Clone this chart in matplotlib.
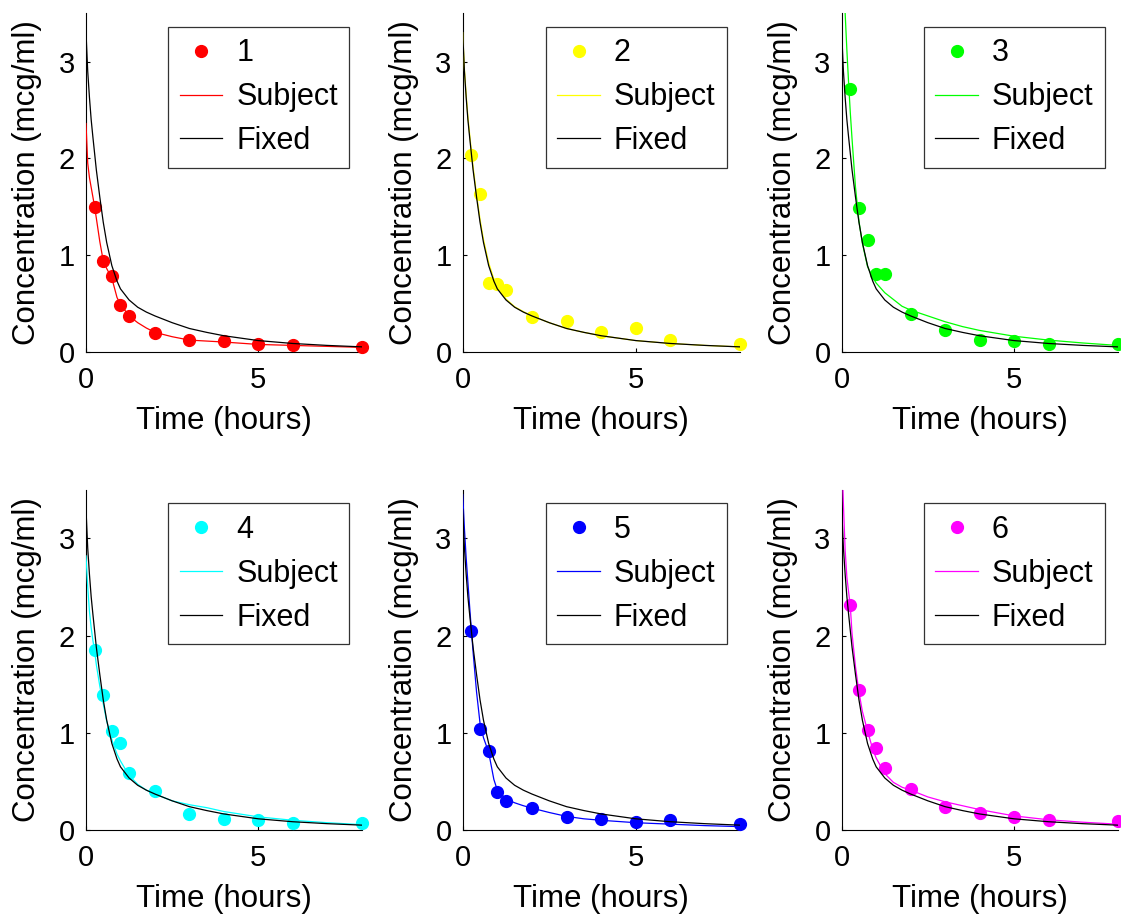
import matplotlib
matplotlib.use("Agg")
import matplotlib.pyplot as plt

plt.rcParams['font.family'] = ['Liberation Sans', 'DejaVu Sans']

# sampling times of the indomethacin data (hours)
time = [0.25, 0.5, 0.75, 1, 1.25, 2, 3, 4, 5, 6, 8]

# measured concentrations, one list per subject
conc_1 = [1.50, 0.94, 0.78, 0.48, 0.37, 0.19, 0.12, 0.11, 0.08, 0.07, 0.05]
conc_2 = [2.03, 1.63, 0.71, 0.70, 0.64, 0.36, 0.32, 0.20, 0.25, 0.12, 0.08]
conc_3 = [2.72, 1.49, 1.16, 0.80, 0.80, 0.39, 0.22, 0.12, 0.11, 0.08, 0.08]
conc_4 = [1.85, 1.39, 1.02, 0.89, 0.59, 0.40, 0.16, 0.11, 0.10, 0.07, 0.07]
conc_5 = [2.05, 1.04, 0.81, 0.39, 0.30, 0.23, 0.13, 0.11, 0.08, 0.10, 0.06]
conc_6 = [2.31, 1.44, 1.03, 0.84, 0.64, 0.42, 0.24, 0.17, 0.13, 0.10, 0.09]

# fitted curves
curve_t = [0, 0.05, 0.1, 0.15, 0.2, 0.25, 0.3, 0.4, 0.5, 0.6, 0.75, 0.9, 1.0,
           1.25, 1.5, 1.75, 2.0, 2.5, 3.0, 3.5, 4.0, 5.0, 6.0, 7.0, 8.0]
fixed_fit = [3.30, 2.90, 2.63, 2.40, 2.22, 2.05, 1.88, 1.60, 1.34, 1.13, 0.89, 0.73, 0.65,
             0.535, 0.46, 0.41, 0.37, 0.30, 0.24, 0.20, 0.165, 0.115, 0.085, 0.065, 0.05]
subj_fit_1 = [2.36, 1.95, 1.80, 1.70, 1.60, 1.50, 1.38, 1.14, 0.94, 0.86, 0.76, 0.56, 0.49,
              0.37, 0.30, 0.245, 0.20, 0.155, 0.12, 0.11, 0.10, 0.075, 0.065, 0.055, 0.045]
subj_fit_2 = [3.30, 2.92, 2.66, 2.43, 2.25, 2.08, 1.91, 1.63, 1.37, 1.16, 0.92, 0.75, 0.67,
              0.545, 0.465, 0.415, 0.37, 0.30, 0.24, 0.20, 0.165, 0.115, 0.085, 0.065, 0.05]
subj_fit_3 = [4.20, 3.85, 3.50, 3.12, 2.78, 2.47, 2.20, 1.70, 1.35, 1.12, 0.88, 0.77, 0.71,
              0.61, 0.54, 0.47, 0.43, 0.37, 0.31, 0.26, 0.22, 0.16, 0.12, 0.09, 0.065]
subj_fit_4 = [2.82, 2.50, 2.25, 2.08, 1.95, 1.84, 1.70, 1.48, 1.30, 1.12, 0.93, 0.78, 0.71,
              0.56, 0.47, 0.41, 0.37, 0.30, 0.26, 0.23, 0.19, 0.135, 0.10, 0.075, 0.055]
subj_fit_5 = [3.45, 3.10, 2.80, 2.55, 2.30, 2.06, 1.83, 1.42, 1.10, 0.95, 0.80, 0.52, 0.41,
              0.32, 0.28, 0.25, 0.225, 0.18, 0.14, 0.115, 0.10, 0.075, 0.06, 0.045, 0.035]
subj_fit_6 = [3.90, 3.35, 2.88, 2.60, 2.45, 2.30, 2.02, 1.68, 1.42, 1.22, 1.02, 0.83, 0.74,
              0.58, 0.49, 0.44, 0.41, 0.34, 0.29, 0.25, 0.21, 0.145, 0.105, 0.08, 0.06]

subjects = ['1', '2', '3', '4', '5', '6']
colors = ['#ff0000', '#ffff00', '#00ff00', '#00ffff', '#0000ff', '#ff00ff']
concs = [conc_1, conc_2, conc_3, conc_4, conc_5, conc_6]
fits = [subj_fit_1, subj_fit_2, subj_fit_3, subj_fit_4, subj_fit_5, subj_fit_6]

W, H = 1121, 917
fig = plt.figure(figsize=(W / 100, H / 100), dpi=100)

# axes boxes in pixels: left, y of x-axis from top, width, height
lefts = [86, 462.7, 841.7]
bottoms = [351.7, 830]
widths = [275.8, 277.0, 275.8]
heights = [338.4, 340.2]

for i in range(6):
    r, c = divmod(i, 3)
    ax = fig.add_axes([lefts[c] / W, (H - bottoms[r]) / H, widths[c] / W, heights[r] / H])
    col = colors[i]
    ax.plot(time, concs[i], 'o', color=col, mec=col, ms=8.5, clip_on=False,
            zorder=3, label=subjects[i])
    ax.plot(curve_t, fits[i], '-', color=col, lw=0.9, zorder=4, label='Subject')
    ax.plot(curve_t, fixed_fit, '-', color='black', lw=0.9, zorder=5, label='Fixed')

    ax.set_xlim(0, 8)
    ax.set_ylim(0, 3.5)
    ax.set_xticks([0, 5])
    ax.set_yticks([0, 1, 2, 3])
    ax.spines['top'].set_visible(False)
    ax.spines['right'].set_visible(False)
    for s in ('left', 'bottom'):
        ax.spines[s].set_linewidth(0.8)
    ax.tick_params(direction='in', length=3, width=0.8, labelsize=21, pad=8)
    ax.tick_params(axis='x', pad=10)
    ax.set_xlabel('Time (hours)', fontsize=22.5, labelpad=9)
    ax.set_ylabel('Concentration (mcg/ml)', fontsize=22.5, labelpad=12)

    leg = ax.legend(loc='upper right', bbox_to_anchor=(0.955, 0.96), fontsize=22,
                    frameon=True, fancybox=False, borderpad=0.38, labelspacing=0.45,
                    handlelength=1.4, handletextpad=0.45, borderaxespad=0)
    leg.get_frame().set_edgecolor('black')
    leg.get_frame().set_linewidth(0.9)

fig.savefig('out.png', dpi=100)
